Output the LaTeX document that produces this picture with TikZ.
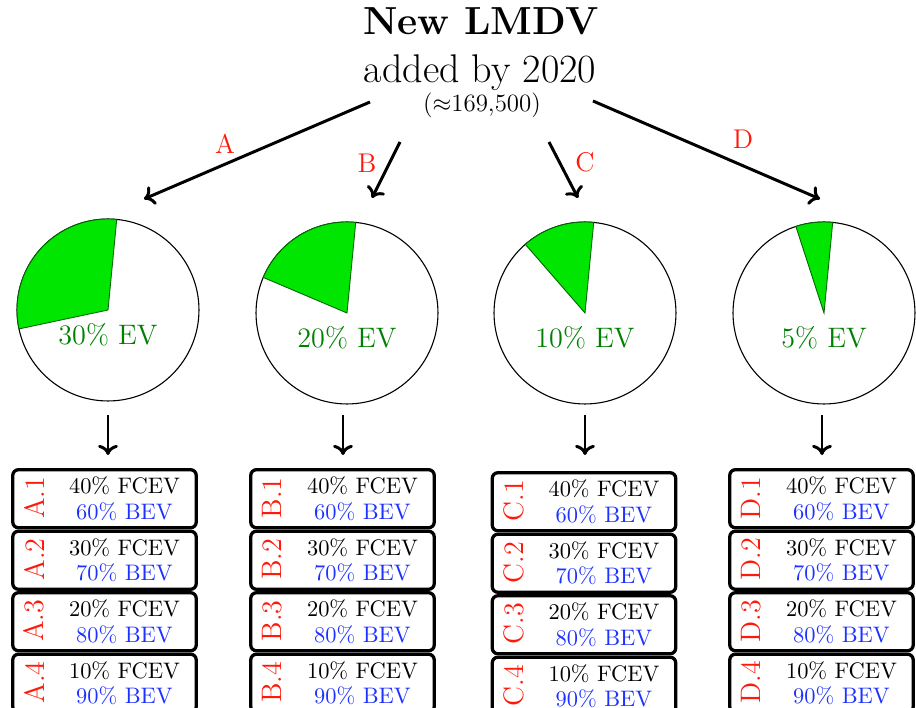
\documentclass[tikz,border=0pt]{standalone}
\usepackage{fontspec}
\usetikzlibrary{arrows.meta}
\definecolor{evgreen}{RGB}{0,128,0}
\definecolor{slicegreen}{RGB}{0,230,0}
\definecolor{lblred}{RGB}{255,25,10}
\definecolor{bevblue}{RGB}{30,50,255}
\begin{document}
\begin{tikzpicture}[x=0.4545pt,y=-0.4545pt,
  arr/.style={line width=1.35pt,-{To[length=4.6pt,width=9pt]}},
  branch/.style={text=lblred,font=\fontsize{12.3}{14}\selectfont},
  piecircle/.style={circle,draw=black,line width=0.5pt,minimum size=82.7pt,inner sep=0pt},
  slice/.style={fill=slicegreen,draw=black!60!green,line width=0.4pt},
  evtext/.style={text=evgreen,font=\fontsize{12.8}{15}\selectfont,anchor=base},
  mixbox/.style={draw=black,line width=1.5pt,rounded corners=2.6pt,
    minimum width=83.4pt,minimum height=26.4pt,inner sep=0pt},
  mixtext/.style={font=\fontsize{10.2}{11.5}\selectfont,align=center,inner sep=0pt},
  mixlabel/.style={text=lblred,font=\fontsize{12.8}{15}\selectfont,rotate=90,inner sep=0pt}]
\useasboundingbox (0,0) rectangle (916,708);
\clip (0,0) rectangle (916,708);

% heading
\node[anchor=base,font=\fontsize{17.8}{20}\selectfont\bfseries] (title) at (481,35) {New LMDV};
\node[anchor=base,font=\fontsize{18.2}{20}\selectfont] (subtitle) at (480,83) {added by 2020};
\node[anchor=base,font=\fontsize{11.3}{13}\selectfont] (count) at (482,112) {($\approx$169,500)};

% branch arrows
\coordinate (sA) at (370,102); \coordinate (eA) at (144,199);
\coordinate (sB) at (400,142); \coordinate (eB) at (372,198);
\coordinate (sC) at (549,142); \coordinate (eC) at (578,198);
\coordinate (sD) at (593,101); \coordinate (eD) at (820,199);
\foreach \c in {A,B,C,D} { \draw[arr] (s\c) -- (e\c); }
\node[branch] (bA) at (225,144) {A};
\node[branch] (bB) at (367,163) {B};
\node[branch] (bC) at (585,162) {C};
\node[branch] (bD) at (743,139) {D};

% pies, down arrows and scenario boxes
\foreach \c/\cx/\cy/\ea/\p/\ax/\bx/\by in
  {A/108/310/192/30/108/104.5/468,
   B/347/313/157/20/343/342.5/468,
   C/585/313/131/10/585/584/471,
   D/824/313/108/5/822/821.5/468} {
  \node[piecircle] (pie\c) at (\cx,\cy) {};
  \fill[slice] (pie\c.center) -- ++(-84.5:91) arc[start angle=-84.5,end angle=-\ea,radius=91] -- cycle;
  \node[evtext] (ev\c) at (\cx,\cy+35) {\p\% EV};
  \coordinate (d\c top) at (\ax,415);
  \coordinate (d\c tip) at (\ax,455);
  \draw[arr] (d\c top) -- (d\c tip);
  \foreach \k/\f/\b [count=\i from 0] in {1/40/60,2/30/70,3/20/80,4/10/90} {
    \node[mixbox] (box\c\k) at (\bx,\by+30.75+61.5*\i) {};
    \node[mixtext] (txt\c\k) at ([xshift=9.1pt]box\c\k.center) {\f\% FCEV\\\textcolor{bevblue}{\b\% BEV}};
    \node[mixlabel] (lbl\c\k) at ([xshift=10.4pt,yshift=0.4pt]box\c\k.west) {\c.\k};
  }
}
\end{tikzpicture}
\end{document}
